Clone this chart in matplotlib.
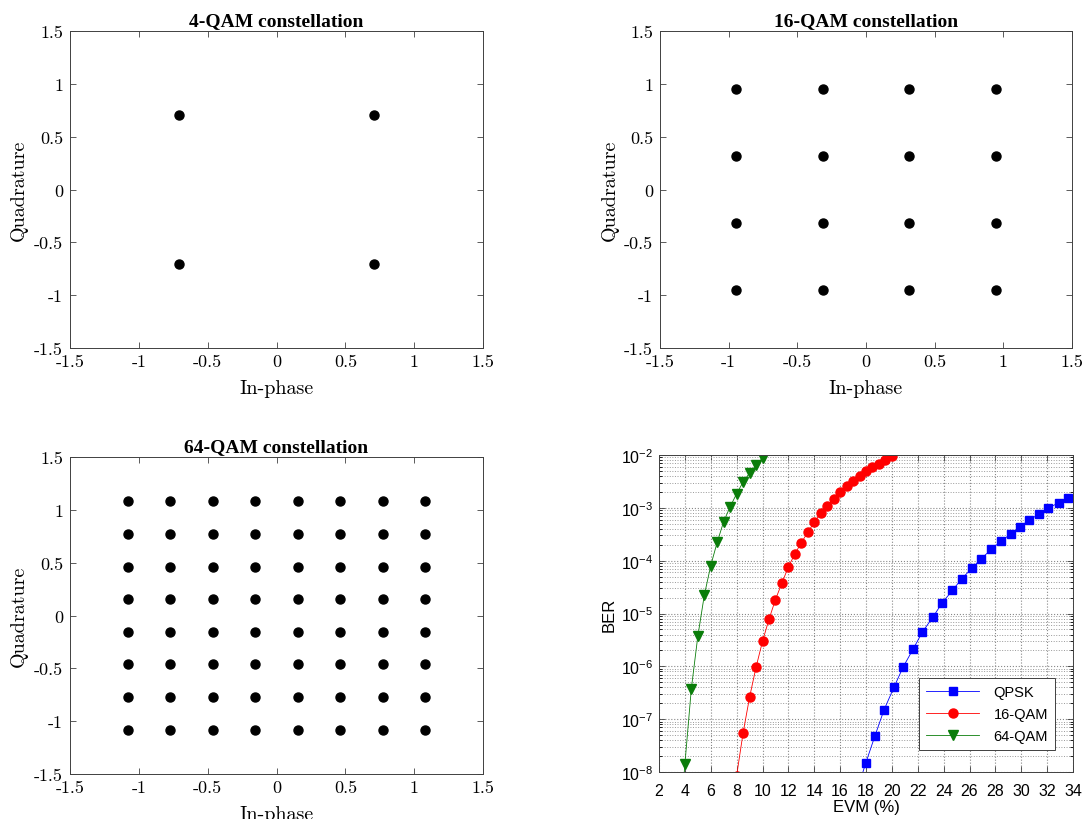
import numpy as np
import matplotlib
matplotlib.use("Agg")
import matplotlib.pyplot as plt
from matplotlib.ticker import LogLocator, NullFormatter

# constellation levels (normalized to unit average power)
QAM4_LEVELS = [-0.7071, 0.7071]
QAM16_LEVELS = [-0.9487, -0.3162, 0.3162, 0.9487]
QAM64_LEVELS = [-1.0801, -0.7715, -0.4629, -0.1543, 0.1543, 0.4629, 0.7715, 1.0801]

CONST_TICKS = [-1.5, -1, -0.5, 0, 0.5, 1, 1.5]
CONST_TICK_LABELS = ["-1.5", "-1", "-0.5", "0", "0.5", "1", "1.5"]

# BER vs EVM curves
EVM_QPSK = [17.25, 17.97, 18.70, 19.39, 20.17, 20.86, 21.66, 22.36, 23.16, 23.88, 24.68,
            25.41, 26.20, 26.90, 27.70, 28.40, 29.20, 29.90, 30.60, 31.40, 32.10, 32.90, 33.60]
BER_QPSK = [4.0e-9, 1.45e-8, 4.9e-8, 1.49e-7, 4.07e-7, 9.6e-7, 2.16e-6, 4.47e-6, 8.46e-6,
            1.58e-5, 2.74e-5, 4.56e-5, 7.26e-5, 1.09e-4, 1.64e-4, 2.32e-4, 3.2e-4, 4.34e-4,
            5.89e-4, 7.64e-4, 9.93e-4, 1.25e-3, 1.56e-3]

EVM_16QAM = [8.0, 8.5, 9.0, 9.5, 10.0, 10.5, 11.0, 11.5, 12.0, 12.5, 13.0, 13.5, 14.0,
             14.5, 15.0, 15.5, 16.0, 16.5, 17.0, 17.5, 18.0, 18.5, 19.0, 19.5, 20.0]
BER_16QAM = [8.5e-9, 5.5e-8, 2.6e-7, 9.6e-7, 2.97e-6, 7.76e-6, 1.83e-5, 3.78e-5, 7.6e-5,
             1.34e-4, 2.19e-4, 3.44e-4, 5.32e-4, 7.98e-4, 1.08e-3, 1.49e-3, 1.96e-3,
             2.55e-3, 3.22e-3, 4.06e-3, 4.91e-3, 5.93e-3, 6.86e-3, 8.04e-3, 9.7e-3]

EVM_64QAM = [3.5, 4.0, 4.5, 5.0, 5.5, 6.0, 6.5, 7.0, 7.5, 8.0, 8.5, 9.0, 9.5, 10.0]
BER_64QAM = [3.0e-10, 1.4e-8, 3.8e-7, 3.7e-6, 2.2e-5, 8.1e-5, 2.24e-4, 5.5e-4, 1.05e-3,
             1.85e-3, 3.08e-3, 4.56e-3, 6.37e-3, 8.8e-3]

EVM_TICKS = list(range(2, 35, 2))

plt.rcParams["axes.unicode_minus"] = False
W, H = 1086, 820


def ax_rect(left, top, right, bottom):
    return [left / W, 1 - bottom / H, (right - left) / W, (bottom - top) / H]


def constellation(ax, levels, title):
    I, Q = np.meshgrid(levels, levels)
    ax.plot(I.ravel(), Q.ravel(), "o", color="black", markersize=6.5)
    ax.set_xlim(-1.5, 1.5)
    ax.set_ylim(-1.5, 1.5)
    ax.set_xticks(CONST_TICKS)
    ax.set_yticks(CONST_TICKS)
    ax.set_xticklabels(CONST_TICK_LABELS, family="cmr10", fontsize=13)
    ax.set_yticklabels(CONST_TICK_LABELS, family="cmr10", fontsize=13)
    ax.tick_params(direction="in", top=True, right=True, length=4, width=0.6,
                   color="#404040")
    ax.tick_params(axis="x", pad=4)
    ax.tick_params(axis="y", pad=5)
    for s in ax.spines.values():
        s.set_color("#404040")
        s.set_linewidth(0.7)
    ax.set_xlabel("In-phase", family="cmr10", fontsize=14.5, labelpad=7)
    ax.set_ylabel("Quadrature", family="cmr10", fontsize=14.5, labelpad=4)
    ax.set_title(title, family="Liberation Serif", fontweight="bold", fontsize=14, pad=4)


fig = plt.figure(figsize=(W / 100, H / 100), dpi=100)

ax1 = fig.add_axes(ax_rect(70, 32, 483, 349))
constellation(ax1, QAM4_LEVELS, "4-QAM constellation")

ax2 = fig.add_axes(ax_rect(660, 32, 1072, 349))
constellation(ax2, QAM16_LEVELS, "16-QAM constellation")

ax3 = fig.add_axes(ax_rect(70, 458, 483, 775))
constellation(ax3, QAM64_LEVELS, "64-QAM constellation")

# BER vs EVM
ax4 = fig.add_axes(ax_rect(659, 456, 1073, 773))
ax4.semilogy(EVM_QPSK, BER_QPSK, "-s", color="#0000ff", lw=0.6, markersize=6,
             label="QPSK")
ax4.semilogy(EVM_16QAM, BER_16QAM, "-o", color="#ff0000", lw=0.6, markersize=6.5,
             label="16-QAM")
ax4.semilogy(EVM_64QAM, BER_64QAM, "-v", color="#0a7d0a", lw=0.6, markersize=7,
             label="64-QAM")
ax4.set_xlim(2, 34)
ax4.set_ylim(1e-8, 1e-2)
ax4.set_xticks(EVM_TICKS)
ax4.yaxis.set_major_locator(LogLocator(base=10, numticks=10))
ax4.yaxis.set_minor_locator(LogLocator(base=10, subs=np.arange(2, 10), numticks=20))
ax4.yaxis.set_minor_formatter(NullFormatter())
ax4.grid(True, which="major", linestyle=":", color="#888888", linewidth=0.8)
ax4.grid(True, which="minor", axis="y", linestyle=":", color="#999999", linewidth=0.7)
ax4.tick_params(direction="in", top=True, right=True, labelsize=11.5, length=4,
                width=0.6, color="#404040")
ax4.tick_params(axis="x", pad=8)
ax4.tick_params(axis="y", pad=4)
ax4.tick_params(which="minor", direction="in", right=True, length=2)
for lbl in ax4.get_xticklabels() + ax4.get_yticklabels():
    lbl.set_family("Liberation Sans")
for s in ax4.spines.values():
    s.set_color("#404040")
    s.set_linewidth(0.7)
ax4.set_xlabel("EVM (%)", family="Liberation Sans", fontsize=12, labelpad=1)
ax4.set_ylabel("BER", family="Liberation Sans", fontsize=12, labelpad=3)
leg = ax4.legend(loc="lower right", bbox_to_anchor=(0.957, 0.069), borderaxespad=0,
                 fancybox=False, edgecolor="#404040", framealpha=1, handlelength=3.6,
                 prop={"family": "Liberation Sans", "size": 10.5}, borderpad=0.5,
                 labelspacing=0.55, handletextpad=1.0)
leg.get_frame().set_linewidth(0.7)

fig.savefig("out.png", dpi=100)
